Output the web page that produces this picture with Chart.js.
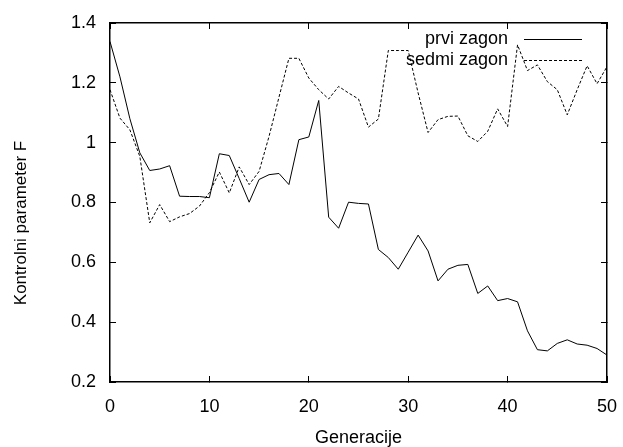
<!DOCTYPE html>
<html>
<head>
<meta charset="utf-8">
<script src="https://cdn.jsdelivr.net/npm/chart.js@4"></script>
<style>
    html, body { margin: 0; padding: 0; background: #fff; }
    #wrap { width: 623px; height: 447px; }
</style>
</head>
<body>
<div id="wrap"><canvas id="graf"></canvas></div>
<script>
const generacije = [0, 1, 2, 3, 4, 5, 6, 7, 8, 9, 10, 11, 12, 13, 14, 15, 16, 17, 18, 19, 20,
    21, 22, 23, 24, 25, 26, 27, 28, 29, 30, 31, 32, 33, 34, 35, 36, 37, 38, 39, 40,
    41, 42, 43, 44, 45, 46, 47, 48, 49, 50]

const prviZagon = [1.338, 1.22, 1.08, 0.966, 0.907, 0.912, 0.923, 0.821, 0.82, 0.82, 0.816,
    0.963, 0.957, 0.88, 0.801, 0.877, 0.893, 0.897, 0.86, 1.01, 1.019,
    1.141, 0.751, 0.714, 0.801, 0.797, 0.795, 0.643, 0.616, 0.577, 0.634,
    0.691, 0.638, 0.538, 0.577, 0.59, 0.593, 0.496, 0.521, 0.472, 0.479,
    0.468, 0.371, 0.308, 0.304, 0.329, 0.341, 0.327, 0.323, 0.312, 0.29]

const sedmiZagon = [1.177, 1.082, 1.043, 0.954, 0.732, 0.793, 0.736, 0.752, 0.763, 0.788, 0.833,
    0.902, 0.832, 0.919, 0.86, 0.904, 1.021, 1.152, 1.282, 1.282, 1.216,
    1.177, 1.146, 1.188, 1.166, 1.146, 1.052, 1.079, 1.308, 1.308, 1.308,
    1.166, 1.034, 1.077, 1.088, 1.089, 1.023, 1.004, 1.038, 1.113, 1.054,
    1.327, 1.241, 1.26, 1.204, 1.177, 1.093, 1.177, 1.257, 1.197, 1.254]

const xTicks = [0, 10, 20, 30, 40, 50]
const yTicks = [0.2, 0.4, 0.6, 0.8, 1, 1.2, 1.4]

const pisava = "'Liberation Sans', Arial, Helvetica, sans-serif"

// frame side: black border line plus short ticks pointing into the plot
const okvirStran = {
    border: { display: true, color: '#000', width: 1.5 },
    grid: { display: true, drawOnChartArea: false, drawTicks: true, tickLength: -6, color: '#000', lineWidth: 1 }
}

// legend inside the plot and the y axis title
const legenda = {
    id: 'legenda',
    afterDraw(chart) {
        const ctx = chart.ctx
        ctx.save()
        ctx.font = '18px ' + pisava
        ctx.fillStyle = '#000'
        ctx.strokeStyle = '#000'
        ctx.lineWidth = 1
        ctx.textAlign = 'right'
        ctx.textBaseline = 'middle'
        chart.data.datasets.forEach((ds, i) => {
            let y = 39 + i * 21
            ctx.fillText(ds.label, 508, y)
            ctx.beginPath()
            ctx.setLineDash(ds.borderDash || [])
            ctx.moveTo(524, y + 0.5)
            ctx.lineTo(582, y + 0.5)
            ctx.stroke()
        })
        ctx.setLineDash([])

        ctx.font = '17px ' + pisava
        ctx.textAlign = 'center'
        ctx.translate(21, 223)
        ctx.rotate(-Math.PI / 2)
        ctx.fillText('Kontrolni parameter F', 0, 0)
        ctx.restore()
    }
}

new Chart(document.getElementById('graf'), {
    type: 'line',
    data: {
        labels: generacije,
        datasets: [{
            label: 'prvi zagon',
            data: prviZagon,
            borderColor: '#000',
            borderWidth: 1,
            pointRadius: 0,
            tension: 0,
            fill: false
        }, {
            label: 'sedmi zagon',
            data: sedmiZagon,
            borderColor: '#000',
            borderWidth: 1,
            borderDash: [3, 2],
            pointRadius: 0,
            tension: 0,
            fill: false
        }]
    },
    options: {
        responsive: true,
        maintainAspectRatio: false,
        animation: false,
        layout: { padding: { top: 23, right: 16, left: 0, bottom: 0 } },
        plugins: {
            legend: { display: false },
            tooltip: { enabled: false }
        },
        scales: {
            x: {
                type: 'linear',
                min: 0,
                max: 50,
                afterFit: s => { s.height = 65; s.paddingLeft = 0; s.paddingRight = 0 },
                afterBuildTicks: s => { s.ticks = xTicks.map(v => ({ value: v })) },
                ...okvirStran,
                ticks: {
                    color: '#000',
                    padding: 20,
                    maxRotation: 0,
                    font: { size: 18, family: pisava }
                },
                title: {
                    display: true,
                    text: 'Generacije',
                    color: '#000',
                    padding: { top: 0, bottom: -2 },
                    font: { size: 18, family: pisava }
                }
            },
            x2: {
                type: 'linear',
                position: 'top',
                min: 0,
                max: 50,
                afterFit: s => { s.height = 0; s.paddingLeft = 0; s.paddingRight = 0 },
                afterBuildTicks: s => { s.ticks = xTicks.map(v => ({ value: v })) },
                ...okvirStran,
                ticks: { display: false }
            },
            y: {
                min: 0.2,
                max: 1.4,
                afterFit: s => { s.width = 110; s.paddingTop = 0; s.paddingBottom = 0 },
                afterBuildTicks: s => { s.ticks = yTicks.map(v => ({ value: v })) },
                ...okvirStran,
                ticks: {
                    color: '#000',
                    padding: 20,
                    font: { size: 18, family: pisava },
                    callback: v => String(v)
                }
            },
            y2: {
                position: 'right',
                min: 0.2,
                max: 1.4,
                afterFit: s => { s.width = 0; s.paddingTop = 0; s.paddingBottom = 0 },
                afterBuildTicks: s => { s.ticks = yTicks.map(v => ({ value: v })) },
                ...okvirStran,
                ticks: { display: false }
            }
        }
    },
    plugins: [legenda]
})
</script>
</body>
</html>
